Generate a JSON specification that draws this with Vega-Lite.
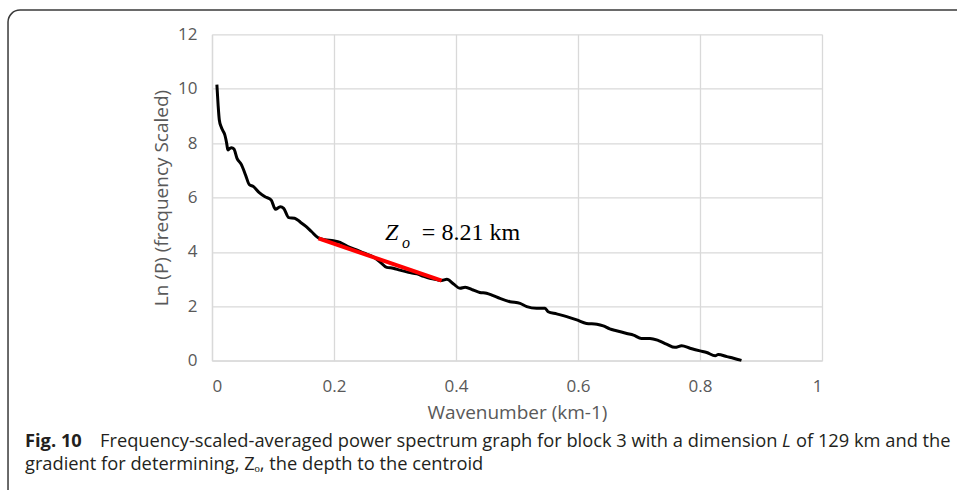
{
  "$schema": "https://vega.github.io/schema/vega-lite/v6.json",
  "autosize": {"type": "none"},
  "padding": {"left": 212, "top": 34.3, "right": 135, "bottom": 129.3},
  "width": 610,
  "height": 326.4,
  "background": "white",
  "config": {
    "view": {"stroke": null},
    "axis": {
      "gridColor": "#d9d9d9",
      "gridWidth": 1.3,
      "domainColor": "#d9d9d9",
      "domainWidth": 1.3,
      "ticks": false,
      "labelFont": "Open Sans",
      "labelFontSize": 17,
      "labelColor": "#595959",
      "titleFont": "Open Sans",
      "titleFontSize": 19,
      "titleFontWeight": "normal",
      "titleColor": "#595959"
    }
  },
  "datasets": {
    "spectrum": [
      {"k": 0.008, "lnp": 10.15}, {"k": 0.010, "lnp": 9.4}, {"k": 0.012, "lnp": 8.85}, {"k": 0.015, "lnp": 8.6},
      {"k": 0.018, "lnp": 8.45}, {"k": 0.021, "lnp": 8.3}, {"k": 0.024, "lnp": 8.0}, {"k": 0.026, "lnp": 7.75},
      {"k": 0.029, "lnp": 7.8}, {"k": 0.032, "lnp": 7.83}, {"k": 0.036, "lnp": 7.78}, {"k": 0.041, "lnp": 7.44},
      {"k": 0.048, "lnp": 7.22}, {"k": 0.055, "lnp": 6.83}, {"k": 0.061, "lnp": 6.48}, {"k": 0.068, "lnp": 6.4},
      {"k": 0.077, "lnp": 6.19}, {"k": 0.087, "lnp": 6.03}, {"k": 0.097, "lnp": 5.91}, {"k": 0.104, "lnp": 5.57},
      {"k": 0.112, "lnp": 5.66}, {"k": 0.1175, "lnp": 5.6}, {"k": 0.126, "lnp": 5.26}, {"k": 0.1355, "lnp": 5.24},
      {"k": 0.145, "lnp": 5.09}, {"k": 0.155, "lnp": 4.92}, {"k": 0.163, "lnp": 4.75}, {"k": 0.174, "lnp": 4.52},
      {"k": 0.185, "lnp": 4.45}, {"k": 0.199, "lnp": 4.41}, {"k": 0.21, "lnp": 4.35}, {"k": 0.222, "lnp": 4.2},
      {"k": 0.237, "lnp": 4.07}, {"k": 0.25, "lnp": 3.95}, {"k": 0.264, "lnp": 3.82}, {"k": 0.275, "lnp": 3.64},
      {"k": 0.2864, "lnp": 3.43}, {"k": 0.297, "lnp": 3.4}, {"k": 0.308, "lnp": 3.33}, {"k": 0.322, "lnp": 3.25},
      {"k": 0.336, "lnp": 3.19}, {"k": 0.347, "lnp": 3.1}, {"k": 0.357, "lnp": 3.03}, {"k": 0.368, "lnp": 2.98},
      {"k": 0.3765, "lnp": 2.95}, {"k": 0.385, "lnp": 2.99}, {"k": 0.396, "lnp": 2.82}, {"k": 0.4066, "lnp": 2.66},
      {"k": 0.415, "lnp": 2.7}, {"k": 0.428, "lnp": 2.6}, {"k": 0.439, "lnp": 2.51}, {"k": 0.45, "lnp": 2.48},
      {"k": 0.461, "lnp": 2.39}, {"k": 0.472, "lnp": 2.29}, {"k": 0.4885, "lnp": 2.17}, {"k": 0.505, "lnp": 2.11},
      {"k": 0.516, "lnp": 1.99}, {"k": 0.532, "lnp": 1.93}, {"k": 0.546, "lnp": 1.93}, {"k": 0.551, "lnp": 1.8},
      {"k": 0.565, "lnp": 1.72}, {"k": 0.5815, "lnp": 1.62}, {"k": 0.598, "lnp": 1.5}, {"k": 0.614, "lnp": 1.37},
      {"k": 0.631, "lnp": 1.34}, {"k": 0.6415, "lnp": 1.28}, {"k": 0.652, "lnp": 1.17}, {"k": 0.663, "lnp": 1.1},
      {"k": 0.68, "lnp": 1.0}, {"k": 0.691, "lnp": 0.94}, {"k": 0.704, "lnp": 0.82}, {"k": 0.718, "lnp": 0.82},
      {"k": 0.732, "lnp": 0.74}, {"k": 0.745, "lnp": 0.61}, {"k": 0.759, "lnp": 0.49}, {"k": 0.77, "lnp": 0.55},
      {"k": 0.7836, "lnp": 0.46}, {"k": 0.8, "lnp": 0.36}, {"k": 0.811, "lnp": 0.3}, {"k": 0.825, "lnp": 0.18},
      {"k": 0.83, "lnp": 0.23}, {"k": 0.844, "lnp": 0.15}, {"k": 0.855, "lnp": 0.09}, {"k": 0.868, "lnp": 0.01}
    ],
    "fit": [
      {"k": 0.1745, "lnp": 4.5},
      {"k": 0.3765, "lnp": 2.94}
    ],
    "one": [{}]
  },
  "layer": [
    {
      "data": {"name": "spectrum"},
      "mark": {"type": "line", "color": "#000000", "strokeWidth": 3, "interpolate": "monotone"},
      "encoding": {
        "x": {"field": "k", "type": "quantitative", "scale": {"domain": [0, 1], "nice": false, "zero": false},
              "axis": {"values": [0, 0.2, 0.4, 0.6, 0.8, 1], "format": "~g", "labelPadding": 18, "titlePadding": 9, "title": "Wavenumber (km-1)"}},
        "y": {"field": "lnp", "type": "quantitative", "scale": {"domain": [0, 12], "nice": false, "zero": false},
              "axis": {"values": [0, 2, 4, 6, 8, 10, 12], "format": "~g", "labelPadding": 15, "titlePadding": 6, "title": "Ln (P) (frequency Scaled)"}}
      }
    },
    {
      "data": {"name": "fit"},
      "mark": {"type": "line", "color": "#ff0000", "strokeWidth": 4},
      "encoding": {
        "x": {"field": "k", "type": "quantitative", "scale": {"domain": [0, 1]}},
        "y": {"field": "lnp", "type": "quantitative", "scale": {"domain": [0, 12]}}
      }
    },
    {
      "data": {"name": "one"},
      "mark": {"type": "text", "text": "Z", "font": "Liberation Serif", "fontStyle": "italic", "fontSize": 24, "align": "left", "baseline": "alphabetic", "color": "#000000"},
      "encoding": {"x": {"datum": 0.2836, "type": "quantitative", "scale": {"domain": [0, 1]}}, "y": {"datum": 4.44, "type": "quantitative", "scale": {"domain": [0, 12]}}}
    },
    {
      "data": {"name": "one"},
      "mark": {"type": "text", "text": "o", "font": "Liberation Serif", "fontStyle": "italic", "fontSize": 16, "align": "left", "baseline": "alphabetic", "color": "#000000"},
      "encoding": {"x": {"datum": 0.3115, "type": "quantitative", "scale": {"domain": [0, 1]}}, "y": {"datum": 4.16, "type": "quantitative", "scale": {"domain": [0, 12]}}}
    },
    {
      "data": {"name": "one"},
      "mark": {"type": "text", "text": "= 8.21 km", "font": "Liberation Serif", "fontSize": 24, "align": "left", "baseline": "alphabetic", "color": "#000000"},
      "encoding": {"x": {"datum": 0.344, "type": "quantitative", "scale": {"domain": [0, 1]}}, "y": {"datum": 4.44, "type": "quantitative", "scale": {"domain": [0, 12]}}}
    },
    {
      "data": {"name": "one"},
      "mark": {"type": "rect", "fill": null, "stroke": "#3a3a3a", "strokeWidth": 1.5, "cornerRadius": 12},
      "encoding": {
        "x": {"datum": -0.3344, "type": "quantitative", "scale": {"domain": [0, 1]}}, "x2": {"datum": 1.3},
        "y": {"datum": 12.89, "type": "quantitative", "scale": {"domain": [0, 12]}}, "y2": {"datum": -6}
      }
    },
    {
      "data": {"name": "one"},
      "mark": {"type": "text", "text": "Fig. 10", "font": "Open Sans", "fontWeight": "bold", "fontSize": 18.3, "align": "left", "baseline": "alphabetic", "color": "#231f20"},
      "encoding": {"x": {"datum": -0.3066, "type": "quantitative", "scale": {"domain": [0, 1]}}, "y": {"datum": -3.173, "type": "quantitative", "scale": {"domain": [0, 12]}}}
    },
    {
      "data": {"name": "one"},
      "mark": {"type": "text", "text": "Frequency-scaled-averaged power spectrum graph for block 3 with a dimension", "font": "Open Sans", "fontSize": 18.3, "align": "left", "baseline": "alphabetic", "color": "#231f20"},
      "encoding": {"x": {"datum": -0.1836, "type": "quantitative", "scale": {"domain": [0, 1]}}, "y": {"datum": -3.173, "type": "quantitative", "scale": {"domain": [0, 12]}}}
    },
    {
      "data": {"name": "one"},
      "mark": {"type": "text", "text": "L", "font": "Open Sans", "fontStyle": "italic", "fontSize": 18.3, "align": "left", "baseline": "alphabetic", "color": "#231f20"},
      "encoding": {"x": {"datum": 0.9344, "type": "quantitative", "scale": {"domain": [0, 1]}}, "y": {"datum": -3.173, "type": "quantitative", "scale": {"domain": [0, 12]}}}
    },
    {
      "data": {"name": "one"},
      "mark": {"type": "text", "text": "of 129 km and the", "font": "Open Sans", "fontSize": 18.3, "align": "left", "baseline": "alphabetic", "color": "#231f20"},
      "encoding": {"x": {"datum": 0.9574, "type": "quantitative", "scale": {"domain": [0, 1]}}, "y": {"datum": -3.173, "type": "quantitative", "scale": {"domain": [0, 12]}}}
    },
    {
      "data": {"name": "one"},
      "mark": {"type": "text", "text": "gradient for determining, Zₒ, the depth to the centroid", "font": "Open Sans", "fontSize": 18.3, "align": "left", "baseline": "alphabetic", "color": "#231f20"},
      "encoding": {"x": {"datum": -0.3066, "type": "quantitative", "scale": {"domain": [0, 1]}}, "y": {"datum": -4.018, "type": "quantitative", "scale": {"domain": [0, 12]}}}
    }
  ]
}
